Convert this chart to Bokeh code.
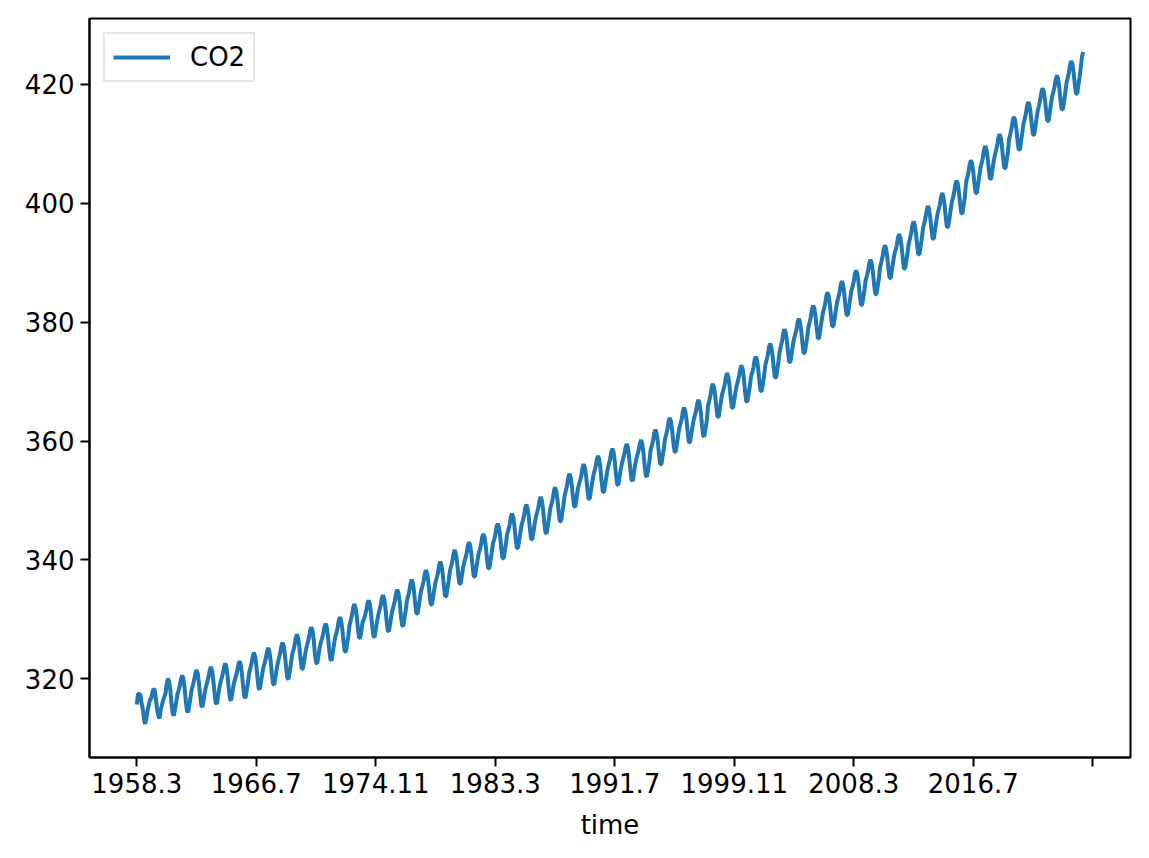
from bokeh.plotting import figure
from bokeh.models import FixedTicker, Range1d, Legend, LegendItem, ColumnDataSource
from bokeh.embed import file_html
from bokeh.resources import INLINE

# Monthly CO2 (ppm), 1958.3 .. 2024.3
co2_1950s = [315.70, 317.45, 317.51, 317.24, 315.86, 314.93, 313.20, 312.43, 313.33, 314.67,
             315.58, 316.48, 316.65, 317.72, 318.29, 318.15, 316.54, 314.80, 313.84, 313.33, 314.81, 315.58]
co2_1960s = [316.43, 316.98, 317.58, 319.03, 320.04, 319.59, 318.18, 315.90, 314.17, 313.83, 315.00, 316.19,
             317.4, 318.1, 318.9, 320.0, 320.6, 320.0, 318.4, 316.3, 314.6, 314.4, 315.7, 317.0,
             318.3, 319.0, 319.8, 320.9, 321.5, 320.9, 319.3, 317.2, 315.5, 315.3, 316.6, 317.9,
             318.8, 319.5, 320.3, 321.4, 322.0, 321.4, 319.8, 317.7, 316.0, 315.8, 317.1, 318.4,
             319.4, 320.1, 320.9, 322.0, 322.6, 322.0, 320.4, 318.3, 316.6, 316.4, 317.7, 319.0,
             319.8, 320.5, 321.3, 322.4, 323.0, 322.4, 320.8, 318.7, 317.0, 316.8, 318.1, 319.4,
             321.0, 321.8, 322.6, 323.8, 324.4, 323.8, 322.3, 320.1, 318.4, 318.3, 319.6, 320.9,
             322.0, 322.7, 323.5, 324.6, 325.2, 324.6, 323.0, 320.9, 319.2, 319.0, 320.3, 321.6,
             322.7, 323.5, 324.3, 325.5, 326.1, 325.5, 324.0, 321.8, 320.1, 320.0, 321.3, 322.6,
             324.1, 324.8, 325.6, 326.9, 327.5, 326.9, 325.5, 323.4, 321.7, 321.7, 323.0, 324.3]
co2_1970s = [325.3, 326.1, 326.9, 328.1, 328.7, 328.1, 326.6, 324.4, 322.7, 322.6, 323.9, 325.2,
             326.1, 326.8, 327.6, 328.7, 329.3, 328.7, 327.1, 325.0, 323.3, 323.1, 324.4, 325.7,
             327.0, 327.7, 328.5, 329.8, 330.4, 329.8, 328.4, 326.3, 324.6, 324.6, 325.9, 327.2,
             329.0, 329.8, 330.6, 331.9, 332.6, 332.0, 330.6, 328.5, 326.9, 326.9, 328.2, 329.6,
             330.0, 330.7, 331.5, 332.6, 333.2, 332.6, 331.0, 328.9, 327.2, 327.0, 328.3, 329.6,
             330.7, 331.5, 332.3, 333.5, 334.1, 333.5, 332.0, 329.8, 328.1, 328.0, 329.3, 330.6,
             331.6, 332.4, 333.2, 334.4, 335.0, 334.4, 332.9, 330.7, 329.0, 328.9, 330.2, 331.5,
             333.1, 333.9, 334.7, 336.0, 336.7, 336.1, 334.7, 332.6, 331.0, 331.0, 332.3, 333.7,
             334.9, 335.6, 336.4, 337.7, 338.3, 337.7, 336.3, 334.2, 332.5, 332.5, 333.8, 335.1,
             336.3, 337.0, 337.8, 339.1, 339.7, 339.1, 337.7, 335.6, 333.9, 333.9, 335.2, 336.5]
co2_1980s = [338.1, 338.9, 339.7, 341.0, 341.7, 341.1, 339.7, 337.6, 336.0, 336.0, 337.3, 338.7,
             339.6, 340.3, 341.1, 342.4, 343.0, 342.4, 341.0, 338.9, 337.2, 337.2, 338.5, 339.8,
             341.0, 341.7, 342.5, 343.8, 344.4, 343.8, 342.4, 340.3, 338.6, 338.6, 339.9, 341.2,
             342.7, 343.4, 344.2, 345.5, 346.1, 345.5, 344.1, 342.0, 340.3, 340.3, 341.6, 342.9,
             344.4, 345.1, 345.9, 347.2, 347.8, 347.2, 345.8, 343.7, 342.0, 342.0, 343.3, 344.6,
             345.9, 346.6, 347.4, 348.7, 349.3, 348.7, 347.3, 345.2, 343.5, 343.5, 344.8, 346.1,
             347.2, 348.0, 348.8, 350.0, 350.6, 350.0, 348.5, 346.3, 344.6, 344.5, 345.8, 347.1,
             348.6, 349.4, 350.2, 351.5, 352.2, 351.6, 350.2, 348.1, 346.5, 346.5, 347.8, 349.2,
             350.8, 351.6, 352.5, 353.8, 354.5, 354.0, 352.6, 350.6, 349.0, 349.0, 350.4, 351.8,
             352.7, 353.4, 354.2, 355.5, 356.1, 355.5, 354.1, 352.0, 350.3, 350.3, 351.6, 352.9]
co2_1990s = [354.1, 354.9, 355.7, 356.9, 357.5, 356.9, 355.4, 353.2, 351.5, 351.4, 352.7, 354.0,
             355.3, 356.1, 356.9, 358.1, 358.7, 358.1, 356.6, 354.4, 352.7, 352.6, 353.9, 355.2,
             356.3, 357.0, 357.8, 358.9, 359.5, 358.9, 357.3, 355.2, 353.5, 353.3, 354.6, 355.9,
             357.0, 357.7, 358.5, 359.6, 360.2, 359.6, 358.0, 355.9, 354.2, 354.0, 355.3, 356.6,
             358.5, 359.2, 360.0, 361.3, 361.9, 361.3, 359.9, 357.8, 356.1, 356.1, 357.4, 358.7,
             360.3, 361.1, 361.9, 363.2, 363.9, 363.3, 361.9, 359.8, 358.2, 358.2, 359.5, 360.9,
             362.2, 362.9, 363.7, 365.0, 365.6, 365.0, 363.6, 361.5, 359.8, 359.8, 361.1, 362.4,
             363.5, 364.3, 365.1, 366.3, 366.9, 366.3, 364.8, 362.6, 360.9, 360.8, 362.1, 363.4,
             365.9, 366.7, 367.6, 368.9, 369.6, 369.1, 367.7, 365.7, 364.1, 364.1, 365.5, 366.9,
             368.0, 368.7, 369.5, 370.8, 371.4, 370.8, 369.4, 367.3, 365.6, 365.6, 366.9, 368.2]
co2_2000s = [369.3, 370.1, 370.9, 372.1, 372.7, 372.1, 370.6, 368.4, 366.7, 366.6, 367.9, 369.2,
             370.8, 371.5, 372.3, 373.6, 374.2, 373.6, 372.2, 370.1, 368.4, 368.4, 369.7, 371.0,
             372.8, 373.6, 374.4, 375.7, 376.4, 375.8, 374.4, 372.3, 370.7, 370.7, 372.0, 373.4,
             375.1, 375.9, 376.8, 378.1, 378.8, 378.3, 376.9, 374.9, 373.3, 373.3, 374.7, 376.1,
             377.2, 377.9, 378.7, 380.0, 380.6, 380.0, 378.6, 376.5, 374.8, 374.8, 376.1, 377.4,
             379.1, 379.9, 380.8, 382.1, 382.8, 382.3, 380.9, 378.9, 377.3, 377.3, 378.7, 380.1,
             381.4, 382.2, 383.0, 384.3, 385.0, 384.4, 383.0, 380.9, 379.3, 379.3, 380.6, 382.0,
             383.3, 384.1, 384.9, 386.2, 386.9, 386.3, 384.9, 382.8, 381.2, 381.2, 382.5, 383.9,
             385.3, 386.0, 386.8, 388.1, 388.7, 388.1, 386.7, 384.6, 382.9, 382.9, 384.2, 385.5,
             387.1, 387.8, 388.6, 389.9, 390.5, 389.9, 388.5, 386.4, 384.7, 384.7, 386.0, 387.3]
co2_2010s = [389.2, 390.0, 390.9, 392.2, 392.9, 392.4, 391.0, 389.0, 387.4, 387.4, 388.8, 390.2,
             391.4, 392.1, 392.9, 394.2, 394.8, 394.2, 392.8, 390.7, 389.0, 389.0, 390.3, 391.6,
             393.2, 394.0, 394.9, 396.2, 396.9, 396.4, 395.0, 393.0, 391.4, 391.4, 392.8, 394.2,
             395.8, 396.6, 397.5, 398.8, 399.5, 399.0, 397.6, 395.6, 394.0, 394.0, 395.4, 396.8,
             398.1, 398.9, 399.7, 401.0, 401.7, 401.1, 399.7, 397.6, 396.0, 396.0, 397.3, 398.7,
             400.1, 400.9, 401.8, 403.1, 403.8, 403.3, 401.9, 399.9, 398.3, 398.3, 399.7, 401.1,
             403.5, 404.3, 405.2, 406.5, 407.2, 406.7, 405.3, 403.3, 401.7, 401.7, 403.1, 404.5,
             405.9, 406.7, 407.6, 408.9, 409.6, 409.1, 407.7, 405.7, 404.1, 404.1, 405.5, 406.9,
             408.0, 408.8, 409.6, 410.9, 411.6, 411.0, 409.6, 407.5, 405.9, 405.9, 407.2, 408.6,
             410.8, 411.6, 412.5, 413.8, 414.5, 414.0, 412.6, 410.6, 409.0, 409.0, 410.4, 411.8]
co2_2020s = [413.3, 414.1, 415.0, 416.3, 417.0, 416.5, 415.1, 413.1, 411.5, 411.5, 412.9, 414.3,
             415.6, 416.4, 417.3, 418.6, 419.3, 418.8, 417.4, 415.4, 413.8, 413.8, 415.2, 416.6,
             417.9, 418.7, 419.5, 420.8, 421.5, 420.9, 419.5, 417.4, 415.8, 415.8, 417.1, 418.5,
             420.2, 421.0, 421.9, 423.2, 423.9, 423.4, 422.0, 420.0, 418.4, 418.4, 419.8, 421.2,
             422.8, 424.6, 425.4]

tick_labels = ["1958.3", "1966.7", "1974.11", "1983.3", "1991.7", "1999.11", "2008.3", "2016.7", ""]
y_ticks = [320, 340, 360, 380, 400, 420]

co2 = co2_1950s + co2_1960s + co2_1970s + co2_1980s + co2_1990s + co2_2000s + co2_2010s + co2_2020s
idx = list(range(len(co2)))
n = len(co2) - 1
ymin, ymax = min(co2), max(co2)
pad_x = 0.05 * n
pad_y = 0.05 * (ymax - ymin)

src = ColumnDataSource(data=dict(x=idx, y=co2))

FONT = "DejaVu Sans"
p = figure(output_backend="svg", toolbar_location=None,
           frame_width=1041, frame_height=739,
           min_border_left=89, min_border_top=18, min_border_right=10, min_border_bottom=88,
           x_range=Range1d(-pad_x, n + pad_x), y_range=Range1d(ymin - pad_y, ymax + pad_y))
p.background_fill_color = "white"
p.border_fill_color = "white"
p.outline_line_color = "black"
p.outline_line_width = 2
p.xgrid.visible = False
p.ygrid.visible = False

r = p.line("x", "y", source=src, line_color="#1f77b4", line_width=4)

tick_pos = list(range(0, 100 * len(tick_labels), 100))
p.xaxis.ticker = FixedTicker(ticks=tick_pos)
p.xaxis.major_label_overrides = {t: l for t, l in zip(tick_pos, tick_labels)}
p.yaxis.ticker = FixedTicker(ticks=y_ticks)
p.xaxis.axis_label = "time"

for ax in (p.xaxis[0], p.yaxis[0]):
    ax.axis_line_color = "black"
    ax.axis_line_width = 2
    ax.major_tick_line_color = "black"
    ax.major_tick_line_width = 2
    ax.major_tick_out = 9
    ax.major_tick_in = 0
    ax.minor_tick_out = 0
    ax.minor_tick_in = 0
    ax.major_label_text_font = FONT
    ax.major_label_text_font_size = "26px"
    ax.major_label_text_color = "black"
    ax.major_label_standoff = 6
    ax.axis_label_text_font = FONT
    ax.axis_label_text_font_size = "26px"
    ax.axis_label_text_font_style = "normal"
    ax.axis_label_text_color = "black"
    ax.axis_label_standoff = 14

legend = Legend(items=[LegendItem(label="CO2", renderers=[r])], location="top_left")
legend.margin = 14
legend.padding = 8
legend.spacing = 0
legend.glyph_width = 57
legend.glyph_height = 30
legend.label_height = 30
legend.label_standoff = 20
legend.label_text_font = FONT
legend.label_text_font_size = "26px"
legend.label_text_color = "black"
legend.border_line_color = "#cccccc"
legend.border_line_width = 2
legend.background_fill_color = "white"
legend.background_fill_alpha = 0.8
p.add_layout(legend)

open("out.html", "w").write(file_html(p, INLINE))
